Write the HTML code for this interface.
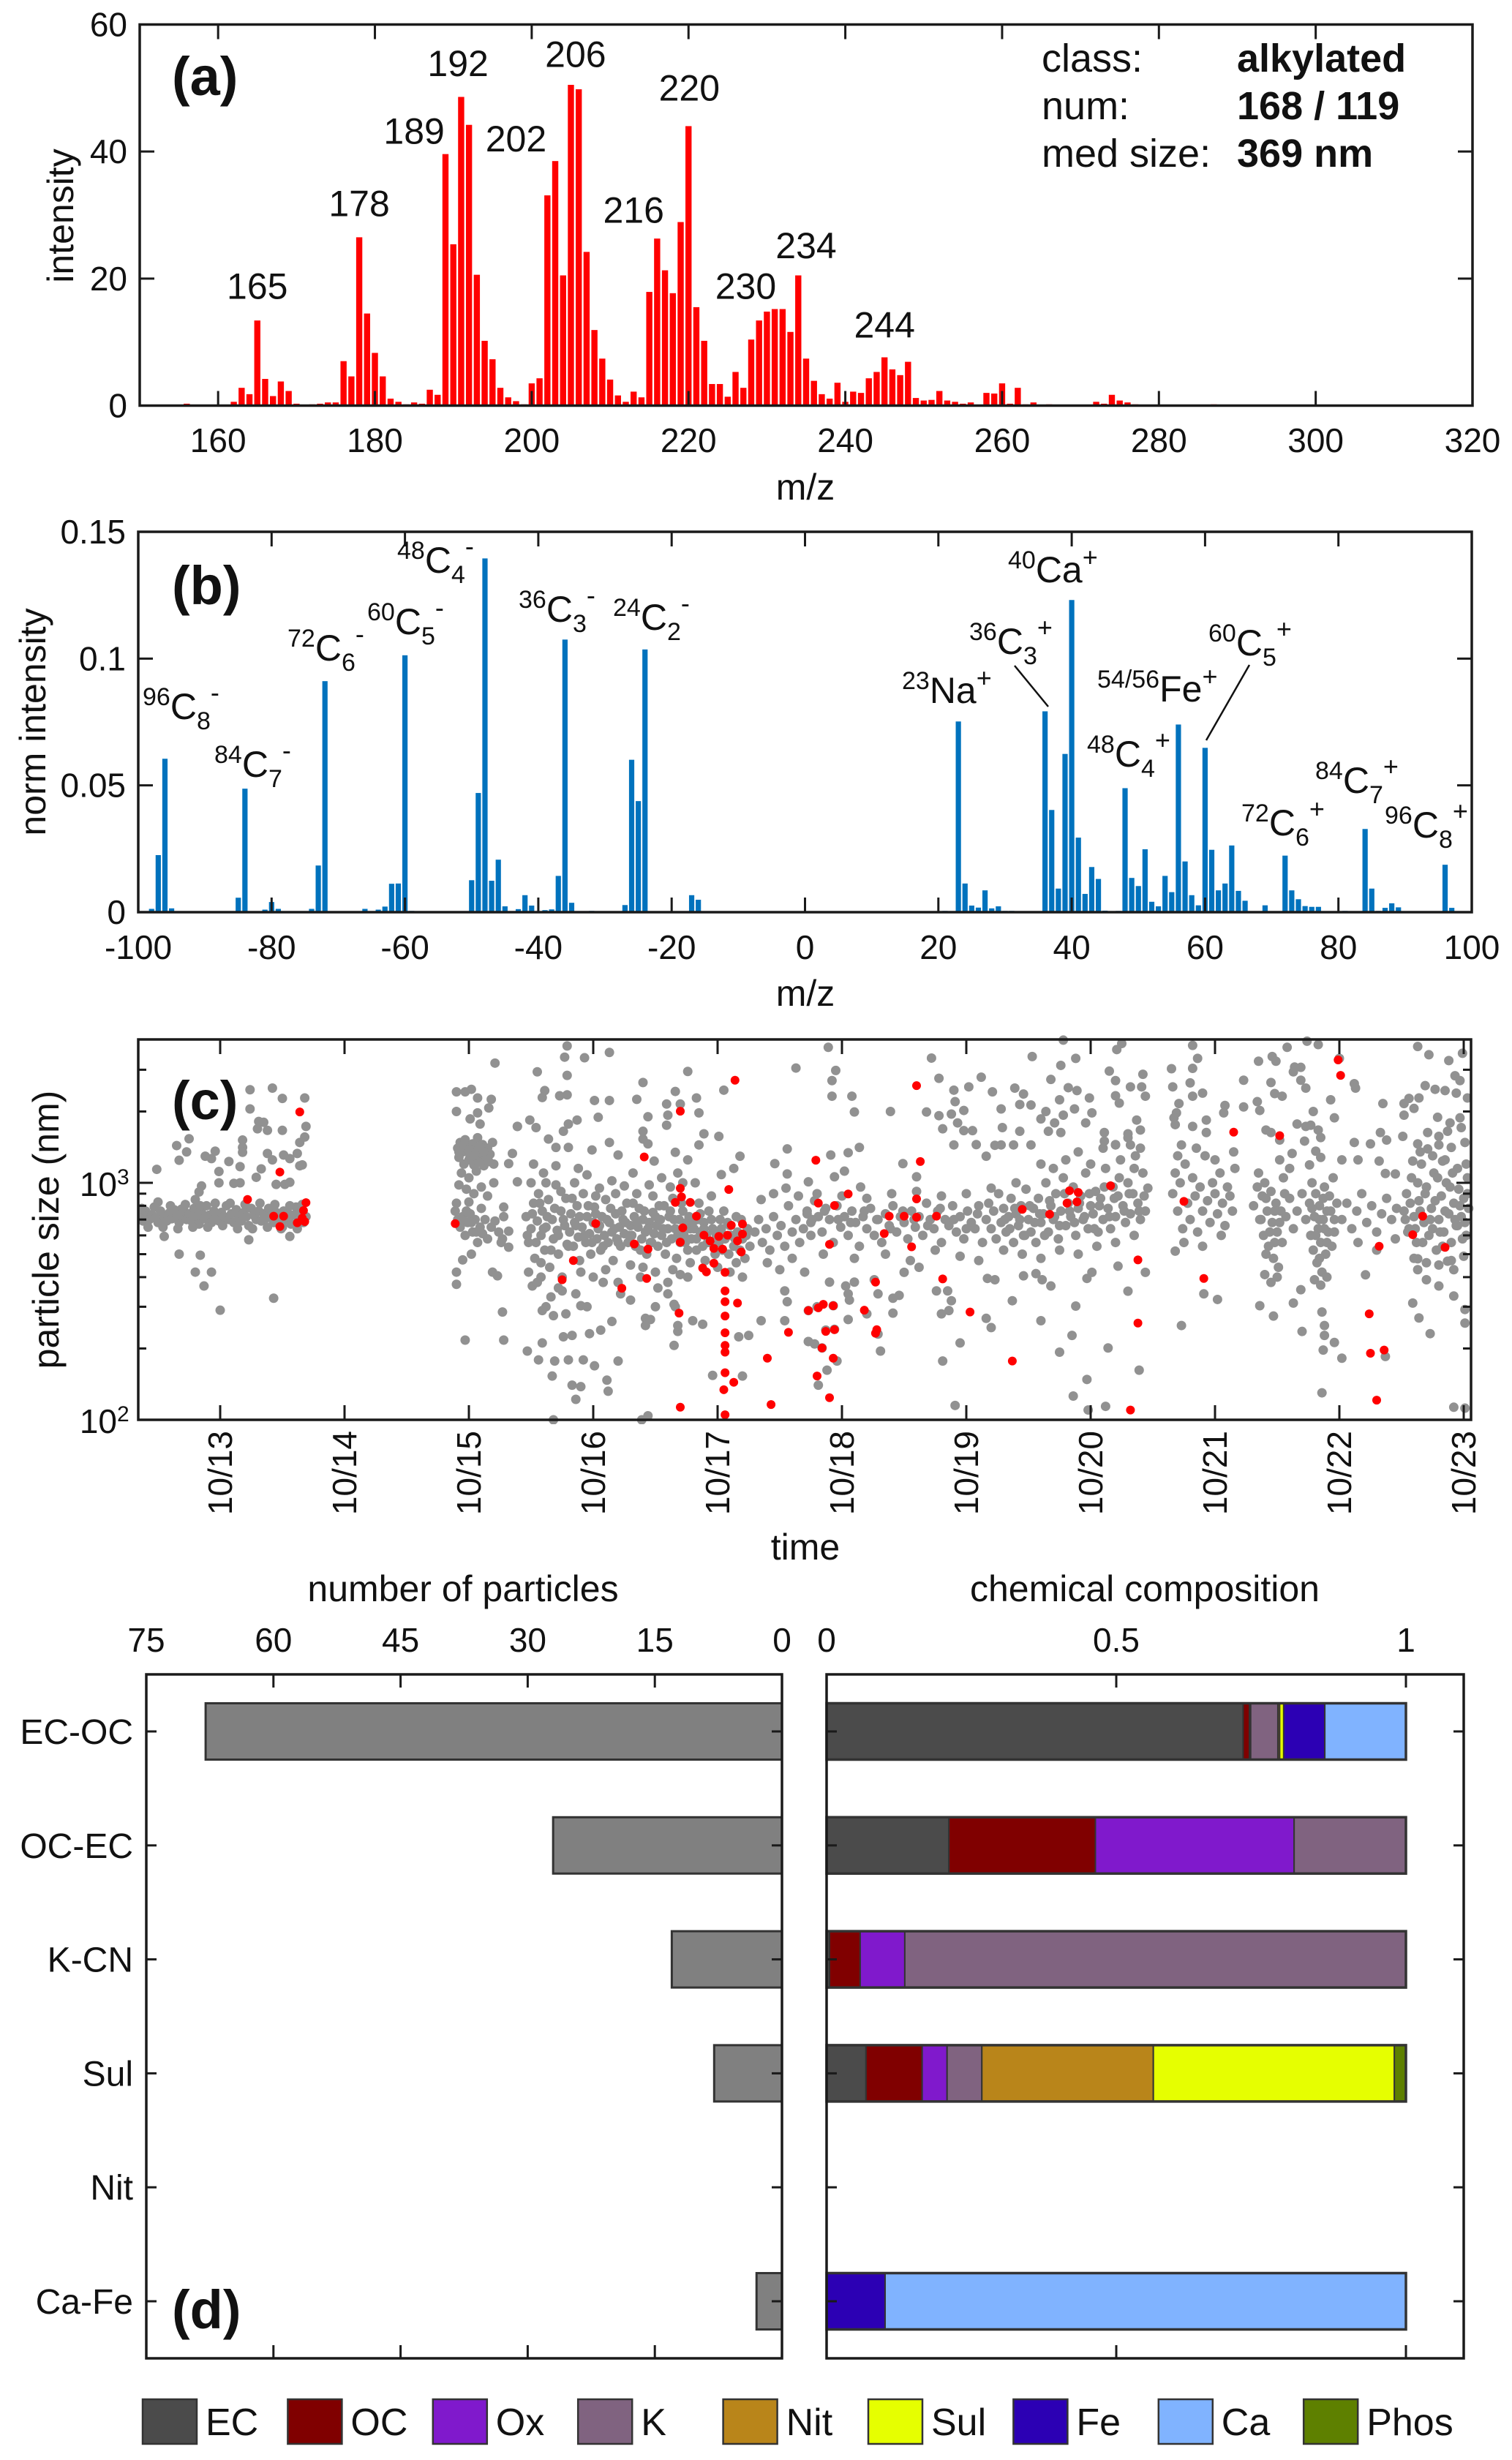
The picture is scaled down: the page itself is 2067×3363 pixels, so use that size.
<!DOCTYPE html>
<html><head><meta charset="utf-8"><title>alkylated class</title>
<style>
html,body{margin:0;padding:0;background:#fff;}
svg{display:block;font-family:"Liberation Sans",Arial,sans-serif;}
</style></head>
<body>
<svg id="fig" xmlns="http://www.w3.org/2000/svg" width="2067" height="3363" viewBox="0 0 2067 3363">
<rect x="0" y="0" width="2067" height="3363" fill="#fff"/>
<g id="pa"></g>
<g id="pb"></g>
<g id="pc"></g>
<g id="pd"></g>
<g id="leg"></g>
</svg>
<script>
// ---------- Panel (a) data ----------
const A_MZ = [156,162,163,164,165,166,167,168,169,170,172,173,174,175,176,177,178,179,180,181,182,183,184,185,186,187,188,189,190,191,192,193,194,195,196,197,198,199,200,201,202,203,204,205,206,207,208,209,210,211,212,213,214,215,216,217,218,219,220,221,222,223,224,225,226,227,228,229,230,231,232,233,234,235,236,237,238,239,240,241,242,243,244,245,246,247,248,249,250,251,252,253,254,255,256,258,259,260,261,262,263,264,266,270,272,273,274,275,276,277,287];
const A_INT = [0.3,0.6,2.8,1.8,13.4,4.2,1.5,3.8,2.3,0.3,0.2,0.3,0.5,0.5,7,4.6,26.5,14.5,8.3,4.6,1.1,0.6,0.2,0.5,0.3,2.5,1.7,39.6,25.4,48.6,44.2,20.6,10.2,7.3,2.8,1.3,0.7,0.2,3.5,4.3,33.1,38.5,20.5,50.5,49.8,24.2,11.9,7.4,4.1,1.6,0.6,2.2,1.3,17.9,26.3,21.3,17.7,28.9,44,15.5,10.2,3.4,3.4,1.4,5.3,2.8,10.4,13.4,14.8,15.2,15.2,11.6,20.5,7.4,3.9,1.8,1.1,3.6,0.6,2.2,2.0,4.3,5.3,7.6,5.7,4.8,6.9,1.2,0.8,0.9,2.3,0.8,0.6,0.3,0.5,2.0,1.9,3.5,0.3,2.8,0.2,0.5,0.2,0.1,0.6,0.3,1.7,0.8,0.5,0.2,0.2];
const A_XTICKS = [160,180,200,220,240,260,280,300,320];
const A_YTICKS = [0,20,40,60];
const A_LABELS = ['165','178','189','192','202','206','216','220','230','234','244'];
const A_LABEL_MZ = [165,178,185,190.6,198,205.6,213,220.1,227.3,235,245];
const A_LABEL_V = [16.8,29.8,41.2,51.9,40,53.3,28.8,48,16.8,23.2,10.7];

// ---------- Panel (b) data ----------
const B_MZ = [-98,-97,-96,-95,-85,-84,-81,-80,-79,-75,-74,-73,-72,-71,-66,-64,-63,-62,-61,-60,-59,-50,-49,-48,-47,-46,-45,-43,-42,-41,-39,-38,-37,-36,-35,-32,-27,-26,-25,-24,-17,-16,-13,21,23,24,25,26,27,28,29,30,31,36,37,38,39,40,41,42,43,44,45,47,48,49,50,51,52,53,54,55,56,57,58,59,60,61,62,63,64,65,66,67,69,71,72,73,74,75,76,77,81,83,84,85,86,87,88,89,95,96,97];
const B_VAL = [0.0013,0.0225,0.0605,0.0015,0.0057,0.0487,0.001,0.004,0.0013,0.0003,0.0013,0.0184,0.0911,0.0004,0.0013,0.001,0.0022,0.0112,0.0113,0.1013,0.0005,0.0126,0.047,0.1395,0.0124,0.0207,0.0023,0.0012,0.0067,0.0026,0.0008,0.0011,0.0143,0.1075,0.0037,0.0005,0.0028,0.0601,0.0438,0.1036,0.0067,0.0049,0.0003,0.0005,0.0752,0.0113,0.0026,0.0018,0.0086,0.0015,0.0023,0.0005,0.0005,0.0792,0.0403,0.0093,0.0624,0.1231,0.0294,0.0072,0.0178,0.0131,0.0006,0.0005,0.0489,0.0135,0.0103,0.0248,0.0041,0.0023,0.0143,0.0079,0.074,0.02,0.0067,0.0027,0.0648,0.0246,0.0086,0.0113,0.0263,0.0084,0.0045,0.0003,0.0027,0.0003,0.0223,0.0086,0.0051,0.0024,0.0021,0.0021,0.0005,0.0003,0.0328,0.0093,0.0005,0.0017,0.0035,0.0019,0.0003,0.0187,0.0017];
const B_XTICKS = [-100,-80,-60,-40,-20,0,20,40,60,80,100];
const B_YTICKS = [0,0.05,0.1,0.15];
const B_YTICK_LABELS = ['0','0.05','0.1','0.15'];

// ---------- Panel (c) data: t = days since 10/13 00:00, size in nm ----------
const C_GRAY_T = [-0.51,-0.35,-0.27,-0.25,-0.33,-0.12,-0.07,-0.04,0.07,-0.01,0.16,0.18,0.18,0.18,0.16,-0.01,0.11,0.29,0.33,0.31,0.35,0.30,0.38,0.38,0.42,0.45,0.52,0.56,0.51,0.56,0.62,0.64,0.66,0.64,0.68,0.69,0.68,0.50,0.42,0.24,0.24,0.50,-0.15,-0.17,-0.20,-0.31,-0.50,-0.60,
-0.45,-0.33,-0.16,-0.20,-0.07,-0.13,0,0.43,0.23,0.56,0.49,
-0.64,-0.62,-0.60,-0.57,-0.55,-0.52,-0.50,-0.48,-0.45,-0.43,-0.41,-0.39,-0.37,-0.35,-0.33,-0.31,-0.29,-0.27,-0.25,-0.23,-0.21,-0.19,-0.17,-0.15,-0.13,-0.11,-0.09,-0.07,-0.05,-0.03,-0.01,0.01,0.03,0.05,0.07,0.09,0.11,0.13,0.15,0.17,0.19,0.21,0.23,0.25,0.27,0.29,0.31,0.33,0.35,0.37,0.39,0.41,0.43,0.45,0.47,0.49,0.51,0.53,0.55,0.57,0.59,0.61,0.63,0.65,0.67,0.69,
-0.63,-0.58,-0.53,-0.46,-0.40,-0.34,-0.28,-0.22,-0.16,-0.10,-0.04,0.02,0.08,0.14,0.20,0.26,0.32,0.38,0.44,0.50,0.56,0.62,0.66,
1.90,1.97,2.02,2.07,2.18,1.90,2.01,2.07,2.16,2.09,2.21,2.35,2.39,2.32,2.39,2.28,2.28,2.32,2.27,2.32,2.19,2.23,1.90,1.90,1.97,2.28,2.27,2.02,1.95,
1.91,1.93,1.95,1.97,1.99,2.01,2.03,2.05,2.07,2.09,2.11,2.13,2.15,2.17,2.19,1.92,1.96,2.00,2.04,2.08,2.12,2.16,2.20,1.94,2.00,2.06,1.92,1.98,2.04,2.10,2.15,2.20,
1.89,1.91,1.93,1.95,1.97,1.99,2.01,2.03,2.05,2.07,2.09,2.11,2.13,2.15,2.18,2.21,2.24,2.26,1.90,2.00,2.10,
2.79,2.77,2.93,3.13,2.79,2.55,2.61,2.59,2.73,2.79,3.01,3.13,3.35,3.40,3.76,3.66,3.83,3.59,3.70,3.85,3.60,3.44,3.04,2.87,2.80,2.49,2.54,2.39,2.76,3.40,3.59,3.89,4.01,3.85,4.05,4.63,4.56,2.64,2.70,2.80,3.13,2.99,3.20,3.40,3.44,3.66,3.76,3.49,4.18,4.13,4.03,4.46,4.56,
2.51,2.75,2.90,2.59,2.68,2.83,2.76,2.59,3.06,2.97,2.47,2.56,2.69,2.80,2.92,3.01,3.20,2.67,2.83,2.90,3.11,3.12,2.86,2.68,3.39,3.44,3.65,3.68,3.80,3.88,3.96,4.20,4.17,4.25,4.35,4.54,4.56,4.54,4.73,3.65,3.68,3.42,3.46,3.42,
2.46,2.48,2.50,2.52,2.53,2.55,2.56,2.58,2.59,2.61,2.62,2.64,2.65,2.67,2.68,2.70,2.71,2.72,2.74,2.75,2.77,2.78,2.79,2.50,2.60,2.70,2.55,2.66,2.48,2.58,
2.81,2.82,2.84,2.85,2.87,2.88,2.89,2.91,2.92,2.94,2.95,2.97,2.98,3.00,3.01,3.03,3.04,3.06,3.07,3.09,3.10,3.12,3.13,3.15,3.16,3.18,3.19,3.21,3.22,3.24,3.25,3.27,3.28,3.30,2.85,2.95,3.05,3.15,3.25,2.90,3.00,3.10,3.20,3.30,
3.31,3.33,3.34,3.36,3.37,3.39,3.40,3.42,3.43,3.45,3.46,3.48,3.49,3.51,3.52,3.54,3.55,3.57,3.58,3.60,3.61,3.63,3.64,3.66,3.67,3.69,3.70,3.72,3.73,3.75,3.76,3.78,3.79,3.35,3.45,3.55,3.62,3.72,3.40,3.50,3.60,3.70,3.78,3.60,3.66,
3.81,3.83,3.84,3.86,3.88,3.89,3.91,3.93,3.94,3.96,3.98,3.99,4.01,4.03,4.04,4.06,4.08,4.09,4.11,4.13,4.15,4.16,4.18,4.20,4.22,4.24,4.26,3.85,3.95,4.05,4.15,3.90,4.00,4.10,4.20,
4.30,4.33,4.36,4.39,4.42,4.45,4.48,4.51,4.54,4.57,4.60,4.63,4.66,4.69,4.72,4.75,4.35,4.45,4.55,4.65,4.40,4.50,4.60,4.70,
4.89,4.95,4.92,4.92,5.08,5.10,5.39,5.14,5.05,4.91,5.02,4.73,4.94,5.15,5.49,5.60,5.68,5.72,5.78,5.90,6.02,6.12,6.21,5.91,5.98,5.78,5.88,5.93,5.81,5.98,6.05,6.08,5.90,6.16,6.28,6.39,6.46,6.43,6.52,6.53,6.64,6.60,6.68,6.76,6.88,6.82,6.89,6.75,6.87,6.99,7.01,6.96,6.78,6.71,6.66,6.76,6.29,6.43,6.52,6.23,6.28,6.38,6.78,7.25,7.21,7.15,7.20,7.42,7.32,7.41,7.44,7.20,7.23,7.37,7.40,7.30,7.11,7.11,7.32,7.20,7.65,7.66,7.82,7.86,7.82,7.80,7.90,7.82,7.71,7.69,7.67,7.68,7.93,7.93,7.82,7.73,8.08,8.07,8.23,8.23,8.36,8.34,8.35,8.46,8.49,8.45,8.48,8.54,8.58,8.74,8.83,8.64,8.69,8.63,8.69,8.73,8.79,8.93,8.96,9.00,9.12,9.13,9.35,9.63,9.72,9.88,9.99,9.93,9.97,9.69,9.77,9.85,9.94,10.03,9.56,9.64,9.52,9.60,9.52,9.79,9.89,9.97,8.41,8.45,8.52,8.66,8.73,8.77,8.83,8.85,8.72,8.81,8.85,8.76,8.52,8.62,9.33,9.25,9.38,9.12,9.51,9.63,9.71,9.80,9.87,9.98,10.01,9.80,9.71,9.90,9.83,9.59,9.32,9.15,9.02,9.37,9.45,
4.73,4.80,4.93,4.87,4.94,4.73,4.78,4.84,4.88,4.81,4.96,5.05,5.06,5.05,5.10,4.90,5.03,5.29,5.26,5.41,5.46,5.41,5.31,5.20,5.29,5.50,5.62,5.76,5.85,5.88,5.86,5.80,5.81,5.95,5.91,6.17,6.23,6.16,6.20,6.37,6.46,6.56,6.61,6.68,6.60,6.75,6.85,6.88,6.86,6.97,6.98,7.12,7.14,6.97,7.01,7.22,7.30,7.44,7.39,7.68,7.73,7.91,8.02,8.36,8.47,8.63,8.69,8.70,8.86,8.88,8.88,8.87,8.96,9.02,8.86,9.21,9.37,9.73,9.59,9.64,9.70,9.80,9.92,10.01,10.01,9.92,10.01,9.92,9.87,9.63,9.63,
4.72,4.75,4.78,4.81,4.84,4.87,4.90,4.93,4.96,4.99,5.02,5.05,5.08,5.11,5.14,5.17,5.20,5.23,5.26,5.29,5.32,5.35,5.38,5.41,5.44,5.47,5.50,5.53,5.56,5.59,5.62,5.65,5.68,5.71,5.74,5.77,5.80,5.83,5.86,5.89,5.92,5.95,5.98,6.01,6.04,6.07,6.10,6.13,4.80,5.00,5.20,5.40,5.60,5.80,6.00,4.85,5.10,5.35,5.55,5.75,5.95,6.10,
6.16,6.18,6.20,6.22,6.24,6.26,6.28,6.30,6.32,6.34,6.36,6.38,6.40,6.42,6.44,6.46,6.48,6.50,6.52,6.54,6.56,6.58,6.60,6.62,6.64,6.66,6.68,6.70,6.72,6.74,6.76,6.78,6.80,6.82,6.84,6.86,6.88,6.90,6.92,6.94,6.96,6.98,7.00,7.02,7.04,7.06,7.08,7.10,7.12,7.14,7.16,7.18,7.20,7.22,7.24,7.26,7.28,7.30,7.32,7.34,7.36,7.38,7.40,7.42,7.44,7.46,6.80,6.90,7.00,7.10,7.20,7.30,7.40,6.70,6.60,6.30,6.45,6.60,6.75,6.90,7.05,7.20,7.35,6.40,6.20,
7.66,7.68,7.70,7.72,7.74,7.76,7.78,7.80,7.82,7.84,7.86,7.88,7.90,7.92,7.94,7.96,7.98,8.00,8.02,8.04,8.06,8.08,8.10,8.12,8.14,8.16,7.75,7.90,8.05,7.70,7.85,8.00,8.15,
8.31,8.34,8.36,8.38,8.39,8.40,8.42,8.43,8.45,8.46,8.47,8.49,8.50,8.51,8.53,8.54,8.55,8.57,8.60,8.63,8.66,8.70,8.73,8.76,8.77,8.78,8.79,8.80,8.81,8.82,8.83,8.84,8.85,8.86,8.87,8.88,8.89,8.90,8.91,8.92,8.94,8.96,8.98,8.40,8.45,8.50,8.80,8.85,8.90,8.35,8.60,8.95,
9.02,9.06,9.10,9.14,9.18,9.22,9.26,9.30,9.34,9.38,9.42,9.46,9.15,9.30,9.45,
9.52,9.54,9.56,9.58,9.60,9.62,9.64,9.66,9.68,9.70,9.72,9.74,9.76,9.78,9.80,9.82,9.84,9.86,9.88,9.90,9.92,9.94,9.96,9.98,10.00,10.02,10.04,9.60,9.70,9.80,9.90,10.00,9.65,9.75,9.85,9.95,10.03,9.55,9.75,9.95];
const C_GRAY_S = [1140,1436,1350,1534,1245,1295,1265,1360,1230,1116,1170,1515,1410,1345,1000,1000,995,1055,1145,1815,1800,1690,1665,1330,1250,985,985,1005,1310,1265,1330,1180,1190,1480,1560,1730,2280,2270,2510,2470,2050,1665,970,915,850,775,830,740,
594,500,495,420,420,367,290,326,575,594,640,
720,690,760,700,735,710,680,760,720,690,745,705,770,730,680,720,760,700,740,690,780,720,670,750,705,800,730,680,760,715,690,750,720,800,700,740,680,770,715,690,750,720,660,780,730,700,760,690,740,710,780,730,680,750,720,690,760,700,740,670,730,790,700,750,680,720,
780,650,790,650,800,640,810,650,800,650,820,660,820,640,810,640,820,650,810,650,800,640,810,
2420,2420,2480,2280,2250,2000,1860,1973,2070,1770,3200,1330,1730,1205,1010,790,720,625,580,535,420,405,420,373,217,217,285,500,473,
1400,1480,1350,1520,1420,1300,1460,1380,1550,1330,1450,1250,1400,1320,1480,1280,1200,1250,1190,1220,1180,1230,1200,1100,1050,1120,980,940,900,960,880,1000,
760,700,650,720,600,680,740,620,700,560,650,610,700,580,650,690,620,560,820,830,780,
3780,3390,3370,3550,2840,2940,2450,2290,2330,2350,2225,2225,2250,2650,2950,2430,2280,2150,2150,1973,1930,1900,1890,1840,1770,1840,1710,1730,1650,1650,1750,1610,1570,1445,2460,3050,1390,1530,1410,1410,1480,1376,1310,1530,1460,1345,1250,1235,1295,1150,1083,1205,1090,
367,350,303,289,275,227,224,211,239,231,195,179,177,179,179,169,177,153,140,138,147,132,122,100,100,104,206,236,262,253,154,153,224,227,262,350,315,262,214,307,250,268,265,250,
720,560,640,820,480,690,900,600,760,520,650,850,440,700,580,980,630,500,760,400,660,860,550,1000,1100,1180,380,330,420,460,
620,740,540,680,800,590,470,650,900,560,720,610,500,680,790,580,640,520,720,600,850,560,680,620,470,740,580,650,540,700,610,820,560,660,1000,1080,950,1020,970,420,400,430,380,450,
600,720,540,650,780,580,700,620,500,680,560,750,610,660,540,700,600,800,500,640,720,580,860,640,480,700,560,760,600,680,520,640,580,900,980,1050,960,1000,440,420,380,410,460,340,300,
640,580,700,620,540,680,600,760,560,640,500,600,560,640,520,580,680,500,600,540,460,620,520,580,480,640,540,820,880,760,720,470,440,420,400,
620,700,560,640,520,720,600,660,540,800,620,700,560,640,740,600,850,900,950,880,460,430,480,420,
3730,2980,2700,2320,2320,1990,2000,1410,1340,1310,1120,1010,1060,960,1205,1060,1990,3360,2760,2460,2540,2790,2420,2200,2020,1920,1950,1790,1690,1660,1660,1450,1445,1295,2050,2510,2370,2140,2130,3410,2000,1860,2730,3130,3350,2520,2450,2240,2050,2280,1973,1790,1930,1790,1650,1630,1710,1650,1445,1440,1445,1445,4000,3870,3650,2960,2700,2870,2540,2540,2320,2330,2170,1840,1670,1610,1630,1500,1445,1445,3030,2540,3800,3350,3040,2640,2390,2320,2160,1973,1880,1760,1840,1630,1730,1445,2120,1973,2710,2090,2020,2200,3260,3410,3260,2650,2380,2320,3730,3960,3830,3080,3070,2940,2710,2510,2000,2240,1880,3350,2620,2510,2160,3760,3470,3280,3520,2830,2700,2570,2480,2450,2390,2280,2270,2280,2160,2060,1930,1890,1790,1880,1670,1630,1515,1770,1730,1750,1670,1552,1500,1360,1280,1190,1250,1330,1630,1460,1515,1480,1570,1460,1630,1570,1650,1710,1480,1445,1390,1410,1235,1235,1235,1250,1250,1095,1090,
289,300,303,239,241,214,209,201,162,140,177,265,320,340,381,381,367,340,390,326,335,282,195,280,230,419,440,350,350,318,289,280,177,211,115,395,390,268,245,318,405,414,390,367,262,193,227,302,126,148,110,114,201,395,419,445,349,419,162,515,250,340,322,303,274,311,354,236,285,250,227,197,212,182,130,409,185,231,311,269,390,367,333,292,256,113,112,430,467,478,430,
760,680,840,720,620,780,700,560,800,650,720,600,760,680,540,720,640,780,600,700,560,740,660,800,620,720,680,580,760,650,720,600,820,700,640,760,560,700,660,800,620,720,580,760,680,640,800,560,900,880,860,900,920,880,900,500,480,500,470,520,490,470,
700,820,640,760,580,900,680,780,620,720,860,560,740,660,800,600,940,700,620,780,560,860,680,740,1000,620,800,700,900,580,760,1050,660,820,720,960,600,780,880,700,1100,640,800,740,920,620,860,700,1150,780,640,960,720,880,1250,800,680,1000,740,900,1300,820,700,1100,760,950,1250,1350,1200,1400,1450,1550,1400,1150,1200,520,500,480,520,500,540,560,600,1000,950,
900,1100,760,1000,640,1200,820,700,1050,880,620,960,760,1300,840,680,1000,900,740,1100,820,660,960,880,760,1150,560,540,600,1300,1400,1250,1350,
800,960,700,880,600,1000,760,540,920,680,480,820,620,440,760,560,1050,720,860,640,760,900,700,820,600,1000,520,720,900,460,640,800,560,420,700,960,500,760,620,880,540,700,820,410,380,400,390,370,400,1100,1150,1050,
700,820,640,760,900,680,800,620,740,860,700,780,560,520,580,
760,900,640,1050,720,560,840,1200,680,960,600,780,1100,520,700,880,620,1000,740,560,820,660,940,720,860,600,780,480,460,450,470,490,1350,1300,1250,1150,1050,620,640,660];
// additional dense-core points read from the busiest clusters
const C_GRAY2_T = [2.47,2.51,2.54,2.57,2.60,2.63,2.66,2.69,2.72,2.76,2.80,2.83,2.86,2.89,2.93,2.96,2.99,3.02,3.05,3.08,3.11,3.14,3.17,3.20,3.23,3.26,3.29,3.32,3.35,3.38,3.41,3.44,3.47,3.50,3.53,3.56,3.59,3.62,3.65,3.68,3.71,3.74,3.77,3.80,3.83,3.86,3.89,3.92,3.95,3.98,4.02,4.05,4.10,4.14,4.19,4.23,
2.52,2.62,2.74,2.88,3.02,3.18,3.32,3.48,3.68,3.82,2.58,2.72,2.86,3.08,3.22,3.38,3.52,3.64,3.76,2.62,2.78,2.95,3.15,3.30,3.50,
1.92,1.96,2.00,2.04,2.08,2.12,1.94,1.98,2.02,2.06,
6.31,6.35,6.39,6.43,6.47,6.51,6.55,6.59,6.63,6.67,6.71,6.75,6.79,6.83,6.87,6.91,6.95,6.99,7.03,7.07,7.11,7.15,7.19,7.23,7.27,7.31,7.35,7.39,7.43,
8.37,8.41,8.44,8.48,8.52,8.56,8.78,8.81,8.84,8.87,8.90,8.93,8.96,8.41,8.48,8.84,8.88,
9.53,9.57,9.61,9.65,9.69,9.73,9.77,9.81,9.85,9.89,9.93,9.97,10.01,10.03,9.63,9.79,9.91,10.02,9.67,9.83,9.99,
4.76,4.86,4.97,5.07,5.18,5.28,5.39,5.49,5.58,5.69,5.79,5.90,6.00,6.09];
const C_GRAY2_S = [600,740,560,820,640,720,520,780,600,700,540,860,660,720,600,800,560,740,660,540,700,780,640,560,760,680,600,820,680,520,760,640,560,720,800,640,560,760,700,600,820,560,720,680,520,740,640,560,700,620,700,600,660,580,700,600,
1200,1000,920,1150,880,900,1100,880,1100,1000,400,360,340,380,340,400,360,430,400,300,280,300,260,320,300,
1350,1450,1380,1300,1420,1350,700,760,680,620,
700,640,780,700,600,800,680,740,600,840,720,660,900,760,680,820,720,900,640,800,960,720,860,1050,760,900,1150,760,880,
700,860,620,760,680,900,780,600,700,860,560,760,620,500,560,480,640,
700,820,640,760,900,700,840,620,760,960,700,800,680,900,1000,1050,1100,1200,560,540,580,
700,760,700,680,760,700,640,760,700,660,780,700,640,740];
const C_RED_T = [0.64,0.48,0.22,0.43,0.51,0.48,0.69,0.67,0.66,0.62,0.68,1.89,
3.02,2.84,2.75,3.23,3.33,3.44,3.43,3.41,3.70,4.14,3.70,3.71,3.66,3.78,3.83,3.72,3.70,3.89,3.94,3.97,4.01,4.08,4.11,4.20,4.20,4.16,4.09,3.97,4.04,4.19,3.88,3.91,4.06,4.06,4.06,4.16,4.06,4.06,4.06,4.06,4.06,4.13,4.05,4.06,3.70,4.43,4.40,4.57,3.69,
5.60,4.79,5.63,5.05,4.81,4.94,4.90,5.60,5.38,5.50,5.60,5.76,5.34,5.56,5.27,5.81,5.18,4.73,4.81,4.85,4.93,4.87,4.94,5.27,5.28,4.84,4.93,4.80,4.90,6.03,6.37,6.45,6.67,6.81,6.89,6.83,6.90,7.16,7.38,7.38,7.32,7.75,7.91,8.15,8.52,8.99,9.01,9.24,9.25,9.36,9.30,9.32,9.59,9.67,9.85];
const C_RED_S = [1990,1110,851,723,723,654,825,764,710,678,686,673,
673,470,390,359,552,525,395,1286,2005,2710,948,872,827,827,723,646,562,601,569,529,594,601,662,670,608,569,937,458,525,511,437,421,419,350,315,311,274,233,206,193,158,144,134,105,113,116,182,234,282,
2570,1245,1230,897,821,802,550,855,723,723,716,723,611,537,381,393,290,289,297,307,303,236,240,232,240,201,182,153,124,285,177,773,737,821,831,926,911,972,473,256,110,835,395,1636,1581,3300,2840,280,191,197,121,540,604,723,534];
const C_XTICK_T = [0,1,2,3,4,5,6,7,8,9,10];
const C_XTICK_LABELS = ['10/13','10/14','10/15','10/16','10/17','10/18','10/19','10/20','10/21','10/22','10/23'];
const C_YMINOR = [200,300,400,500,600,700,800,900,2000,3000];

// ---------- Panel (d) data ----------
const D_CATS = ['EC-OC','OC-EC','K-CN','Sul','Nit','Ca-Fe'];
const D_COUNTS = [68,27,13,8,0,3];
const D_COMPONENTS = ['EC','OC','Ox','K','Nit','Sul','Fe','Ca','Phos'];
const D_COLORS = ['#4b4b4b','#800000','#8019cc','#806380','#b9851a','#e6ff00','#2c00b4','#80b3ff','#5e8000'];
const D_EC   = [0.719,0.211,0.005,0.068,0,0];
const D_OC   = [0.011,0.253,0.053,0.097,0,0];
const D_OX   = [0.002,0.343,0.077,0.043,0,0];
const D_K    = [0.047,0.193,0.865,0.060,0,0];
const D_NIT  = [0.003,0,0,0.296,0,0];
const D_SUL  = [0.007,0,0,0.416,0,0];
const D_FE   = [0.071,0,0,0,0,0.101];
const D_CA   = [0.140,0,0,0,0,0.899];
const D_PHOS = [0,0,0,0.020,0,0];
const D_LEFT_TICKS = [75,60,45,30,15,0];
const D_RIGHT_TICKS = [0,0.5,1];
const D_RIGHT_TICK_LABELS = ['0','0.5','1'];

const NS='http://www.w3.org/2000/svg';
function mk(parent, tag, attrs, text){
  const el=document.createElementNS(NS,tag);
  for(const k in attrs) el.setAttribute(k, attrs[k]);
  if(text!==undefined) el.textContent=text;
  parent.appendChild(el);
  return el;
}
const AX='#1a1a1a';
function box(g,x0,y0,x1,y1,name){
  const r=mk(g,'rect',{x:x0,y:y0,width:x1-x0,height:y1-y0,fill:'none',stroke:AX,'stroke-width':3.5});
  
  
}
function tick(g,x1,y1,x2,y2){
  const l=mk(g,'line',{x1:x1,y1:y1,x2:x2,y2:y2,stroke:AX,'stroke-width':3});
  
  
}
function txt(g,x,y,s,size,anchor,name,extra){
  const a={x:x,y:y,'font-size':size,'text-anchor':anchor||'middle',fill:'#111'};
  if(extra) for(const k in extra) a[k]=extra[k];
  const t=mk(g,'text',a,s);
  
  
  return t;
}

// ================= Panel A =================
(function(){
  const g=document.getElementById('pa');
  const X0=191,X1=2013,Y0=33.5,Y1=554.5;
  const xA=m=>X0+(m-150)*(X1-X0)/170;
  const yA=v=>Y1-v*(Y1-Y0)/60;
  for(let i=0;i<A_MZ.length;i++){
    const h=Y1-yA(A_INT[i]);
    const r=mk(g,'rect',{x:xA(A_MZ[i])-4.2,y:yA(A_INT[i]),width:8.4,height:h,fill:'#ff0000'});
    
    
  }
  box(g,X0,Y0,X1,Y1,'panel-a-axes-box');
  A_XTICKS.forEach(v=>{
    const x=xA(v);
    tick(g,x,Y1,x,Y1-20); tick(g,x,Y0,x,Y0+20);
    txt(g,x,618,String(v),46,'middle','x-tick-label');
  });
  A_YTICKS.forEach(v=>{
    const y=yA(v);
    tick(g,X0,y,X0+20,y); tick(g,X1,y,X1-20,y);
    txt(g,174,y+16,String(v),46,'end','y-tick-label');
  });
  for(let i=0;i<A_LABELS.length;i++){
    txt(g,xA(A_LABEL_MZ[i]),yA(A_LABEL_V[i]),A_LABELS[i],50,'middle','peak-label-'+A_LABELS[i]);
  }
  txt(g,1101,683,'m/z',50,'middle','x-axis-title');
  txt(g,0,0,'intensity',50,'middle','y-axis-title',{transform:'translate(100,295) rotate(-90)'});
  txt(g,235,130,'(a)',74,'start','panel-label-a',{'font-weight':'bold'});
  txt(g,1424,98,'class:',54,'start','info-class-key');
  txt(g,1691,98,'alkylated',54,'start','info-class-value',{'font-weight':'bold'});
  txt(g,1424,163,'num:',54,'start','info-num-key');
  txt(g,1691,163,'168 / 119',54,'start','info-num-value',{'font-weight':'bold'});
  txt(g,1424,228,'med size:',54,'start','info-size-key');
  txt(g,1691,228,'369 nm',54,'start','info-size-value',{'font-weight':'bold'});
})();

// ================= Panel B =================
(function(){
  const g=document.getElementById('pb');
  const X0=189,X1=2012,Y0=727,Y1=1247;
  const xB=m=>X0+(m+100)*(X1-X0)/200;
  const yB=v=>Y1-v*(Y1-Y0)/0.15;
  for(let i=0;i<B_MZ.length;i++){
    const r=mk(g,'rect',{x:xB(B_MZ[i])-3.6,y:yB(B_VAL[i]),width:7.2,height:Y1-yB(B_VAL[i]),fill:'#0072bd'});
    
    
  }
  box(g,X0,Y0,X1,Y1,'panel-b-axes-box');
  B_XTICKS.forEach(v=>{
    const x=xB(v);
    tick(g,x,Y1,x,Y1-20); tick(g,x,Y0,x,Y0+20);
    txt(g,x,1311,String(v),46,'middle','x-tick-label');
  });
  B_YTICKS.forEach((v,i)=>{
    const y=yB(v);
    tick(g,X0,y,X0+20,y); tick(g,X1,y,X1-20,y);
    txt(g,172,y+16,B_YTICK_LABELS[i],46,'end','y-tick-label');
  });
  function ion(x,y,iso,main,sub,charge,name){
    const t=mk(g,'text',{x:x,y:y,'font-size':50,fill:'#111'});
    
    
    mk(t,'tspan',{'font-size':34,dy:-19},iso);
    mk(t,'tspan',{dy:19},main);
    if(sub){ mk(t,'tspan',{'font-size':34,dy:14},sub); }
    mk(t,'tspan',{'font-size':36,dy:sub?-38:-22},charge);
  }
  ion(195,983,'96','C','8','-','label-96C8-neg');
  ion(293,1062,'84','C','7','-','label-84C7-neg');
  ion(393,903,'72','C','6','-','label-72C6-neg');
  ion(502,867,'60','C','5','-','label-60C5-neg');
  ion(543,783,'48','C','4','-','label-48C4-neg');
  ion(709,850,'36','C','3','-','label-36C3-neg');
  ion(838,861,'24','C','2','-','label-24C2-neg');
  ion(1233,961,'23','Na','','+','label-23Na-pos');
  ion(1325,894,'36','C','3','+','label-36C3-pos');
  ion(1378,796,'40','Ca','','+','label-40Ca-pos');
  ion(1500,959,'54/56','Fe','','+','label-Fe-pos');
  ion(1652,896,'60','C','5','+','label-60C5-pos');
  ion(1486,1048,'48','C','4','+','label-48C4-pos');
  ion(1697,1142,'72','C','6','+','label-72C6-pos');
  ion(1798,1084,'84','C','7','+','label-84C7-pos');
  ion(1893,1145,'96','C','8','+','label-96C8-pos');
  const l1=mk(g,'line',{x1:1387,y1:910,x2:1433,y2:966,stroke:'#111','stroke-width':2.5});
  
  
  const l2=mk(g,'line',{x1:1708,y1:909,x2:1649,y2:1012,stroke:'#111','stroke-width':2.5});
  
  
  txt(g,1101,1375,'m/z',50,'middle','x-axis-title');
  txt(g,0,0,'norm intensity',50,'middle','y-axis-title',{transform:'translate(62,987) rotate(-90)'});
  txt(g,235,826,'(b)',74,'start','panel-label-b',{'font-weight':'bold'});
})();

// ================= Panel C =================
(function(){
  const g=document.getElementById('pc');
  const X0=189,X1=2011,Y0=1421,Y1=1941;
  const xC=t=>301+t*170;
  const yC=s=>Y1-(Math.log10(s)-2)*324;
  const clip=mk(g,'clipPath',{id:'cclip'});
  mk(clip,'rect',{x:X0,y:Y0-6,width:X1-X0+6,height:Y1-Y0+12});
  const dots=mk(g,'g',{'clip-path':'url(#cclip)'});
  
  
  for(let i=0;i<C_GRAY_T.length;i++){
    const c=mk(dots,'circle',{cx:xC(C_GRAY_T[i]),cy:yC(C_GRAY_S[i]),r:6.5,fill:'#919191'});
    
    
  }
  for(let i=0;i<C_GRAY2_T.length;i++){
    const c=mk(dots,'circle',{cx:xC(C_GRAY2_T[i]),cy:yC(C_GRAY2_S[i]),r:6.5,fill:'#919191'});
    
    
  }
  for(let i=0;i<C_RED_T.length;i++){
    const c=mk(dots,'circle',{cx:xC(C_RED_T[i]),cy:yC(C_RED_S[i]),r:6,fill:'#ff0000'});
    
    
  }
  box(g,X0,Y0,X1,Y1,'panel-c-axes-box');
  C_XTICK_T.forEach((t,i)=>{
    const x=xC(t);
    tick(g,x,Y1,x,Y1-20); tick(g,x,Y0,x,Y0+20);
    txt(g,0,0,C_XTICK_LABELS[i],46,'end','x-tick-label',{transform:'translate('+(x+16)+',1956) rotate(-90)'});
  });
  [100,1000].forEach(s=>{
    const y=yC(s);
    tick(g,X0,y,X0+20,y); tick(g,X1,y,X1-20,y);
  });
  C_YMINOR.forEach(s=>{
    const y=yC(s);
    tick(g,X0,y,X0+11,y); tick(g,X1,y,X1-11,y);
  });
  [[100,'2'],[1000,'3']].forEach(p=>{
    txt(g,160,yC(p[0])+18,'10',46,'end','y-tick-label');
    txt(g,160,yC(p[0])+2,p[1],30,'start','y-tick-exponent');
  });
  txt(g,1101,2132,'time',50,'middle','x-axis-title');
  txt(g,0,0,'particle size (nm)',50,'middle','y-axis-title',{transform:'translate(80,1681) rotate(-90)'});
  txt(g,235,1530,'(c)',74,'start','panel-label-c',{'font-weight':'bold'});
})();

// ================= Panel D =================
(function(){
  const g=document.getElementById('pd');
  const LX0=200,LX1=1069,RX0=1130,RX1=2001,Y0=2289,Y1=3224;
  const xL=n=>LX1-n*(LX1-LX0)/75;
  const xR=f=>RX0+f*792;
  const yD=i=>2367+i*155.8;
  const H=77;
  D_COUNTS.forEach((n,i)=>{
    if(n<=0) return;
    const r=mk(g,'rect',{x:xL(n),y:yD(i)-H/2,width:xL(0)-xL(n),height:H,fill:'#808080',stroke:'#333','stroke-width':3});
    
    
  });
  const comps=[D_EC,D_OC,D_OX,D_K,D_NIT,D_SUL,D_FE,D_CA,D_PHOS];
  D_CATS.forEach((c,i)=>{
    let acc=0, tot=0;
    comps.forEach(a=>tot+=a[i]);
    if(tot<=0) return;
    comps.forEach((a,k)=>{
      const v=a[i];
      if(v>0){
        const r=mk(g,'rect',{x:xR(acc),y:yD(i)-H/2,width:xR(acc+v)-xR(acc),height:H,fill:D_COLORS[k],stroke:'#333','stroke-width':2});
        
        
      }
      acc+=v;
    });
    const o=mk(g,'rect',{x:xR(0),y:yD(i)-H/2,width:xR(acc)-xR(0),height:H,fill:'none',stroke:'#333','stroke-width':3.5});
    
    
  });
  box(g,LX0,Y0,LX1,Y1,'panel-d-left-axes-box');
  box(g,RX0,Y0,RX1,Y1,'panel-d-right-axes-box');
  D_LEFT_TICKS.forEach(v=>{
    const x=xL(v);
    tick(g,x,Y0,x,Y0+18); tick(g,x,Y1,x,Y1-18);
    txt(g,x,2258,String(v),46,'middle','count-tick-label');
  });
  D_RIGHT_TICKS.forEach((v,i)=>{
    const x=xR(v);
    tick(g,x,Y0,x,Y0+18); tick(g,x,Y1,x,Y1-18);
    txt(g,x,2258,D_RIGHT_TICK_LABELS[i],46,'middle','fraction-tick-label');
  });
  D_CATS.forEach((c,i)=>{
    const y=yD(i);
    tick(g,LX0,y,LX0+14,y); tick(g,LX1,y,LX1-14,y);
    tick(g,RX0,y,RX0+14,y); tick(g,RX1,y,RX1-14,y);
    txt(g,182,y+17,c,48,'end','category-label-'+c);
  });
  txt(g,633,2189,'number of particles',50,'middle','left-axis-title');
  txt(g,1565,2189,'chemical composition',50,'middle','right-axis-title');
  txt(g,235,3183,'(d)',74,'start','panel-label-d',{'font-weight':'bold'});
})();

// ================= Legend =================
(function(){
  const g=document.getElementById('leg');
  D_COMPONENTS.forEach((n,k)=>{
    const x=195+k*198.4;
    const r=mk(g,'rect',{x:x,y:3280,width:74,height:61,fill:D_COLORS[k],stroke:'#333','stroke-width':2.5});
    
    
    txt(g,x+86,3329,n,52,'start','legend-entry-'+n);
  });
})();
</script>
</body></html>
